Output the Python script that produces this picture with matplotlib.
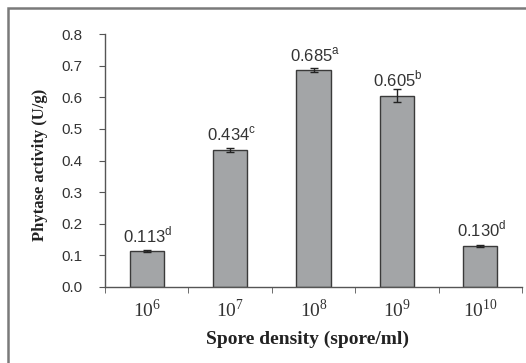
import numpy as np
import matplotlib.pyplot as plt
from matplotlib.patches import Rectangle

# du lieu
exponents = ['6', '7', '8', '9', '10']
activity = np.array([0.113, 0.434, 0.685, 0.605, 0.130])
errors = np.array([0.003, 0.006, 0.006, 0.021, 0.003])
letters = ['d', 'c', 'a', 'b', 'd']

plt.rcParams['mathtext.fontset'] = 'custom'
plt.rcParams['mathtext.rm'] = 'Liberation Serif'
plt.rcParams['mathtext.sf'] = 'Liberation Sans'

fig = plt.figure(figsize=(5.26, 3.63), dpi=100)
ax = fig.add_axes([105/526, 1 - 287/363, 417/526, 253/363])

# khung ngoai
fig.patches.append(Rectangle((8/526, -0.1), 1.2, 1 - 8/363 + 0.1, transform=fig.transFigure,
                             fill=False, edgecolor='#7a7a7a', linewidth=1.8))

x = np.arange(len(activity))
ax.bar(x, activity, width=0.41, color='#a3a5a7', edgecolor='#3a3a3a', linewidth=1.0,
       yerr=errors, error_kw=dict(ecolor='#222222', elinewidth=1.0, capsize=2.8, capthick=1.0))

# nhan gia tri tren cot
for xi, v, l in zip(x, activity, letters):
    ax.annotate('$\\mathsf{%.3f}^{\\mathsf{%s}}$' % (v, l), (xi, v), xytext=(1, 6.5),
                textcoords='offset points', ha='center', va='baseline', fontsize=12, color='#333333')

ax.set_xlim(-0.5, 4.5)
ax.set_ylim(0, 0.8)
ax.set_yticks(np.arange(0, 0.81, 0.1))
ax.set_yticklabels(['%.1f' % t for t in np.arange(0, 0.81, 0.1)], fontfamily='Liberation Sans',
                   fontsize=11, color='#333333')
ax.set_xticks(x)
ax.set_xticklabels(['$\\mathrm{10}^{\\mathrm{%s}}$' % s for s in exponents], fontsize=14, color='#333333')
ax.set_xticks(np.arange(-0.5, 5, 1), minor=True)
ax.tick_params(axis='x', which='major', length=0, pad=8)
ax.tick_params(axis='x', which='minor', length=4, direction='out', color='#555555')
ax.tick_params(axis='y', length=4, direction='out', color='#555555', pad=12)

for s in ['top', 'right']:
    ax.spines[s].set_visible(False)
for s in ['left', 'bottom']:
    ax.spines[s].set_color('#555555')
    ax.spines[s].set_linewidth(1.0)

fig.text(40/526, 1 - 165/363, 'Phytase activity (U/g)', rotation=90, ha='center', va='center',
         fontfamily='Liberation Serif', fontweight='bold', fontsize=12, color='#222222')
fig.text(308/526, 1 - 339/363, 'Spore density (spore/ml)', ha='center', va='center',
         fontfamily='Liberation Serif', fontweight='bold', fontsize=14, color='#222222')

fig.savefig('out.png', dpi=100)
